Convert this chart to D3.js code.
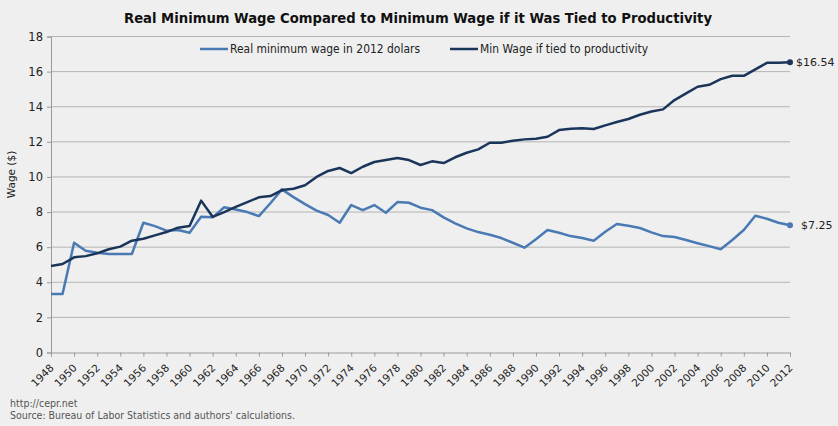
<!DOCTYPE html>
<html>
<head>
<meta charset="utf-8">
<script src="https://cdn.jsdelivr.net/npm/d3@7"></script>
<style>
  html, body { margin: 0; padding: 0; background: #efefef; }
  svg { display: block; }
</style>
</head>
<body>
<div id="chart"></div>
<script>
/* Real minimum wage vs. minimum wage tied to productivity, 1948-2012 */
var years = d3.range(1948, 2013);

var realWage = [
  3.33, 3.33, 6.25, 5.80, 5.68, 5.61, 5.61, 5.61, 7.39, 7.20,
  6.94, 6.98, 6.82, 7.73, 7.70, 8.27, 8.15, 8.00, 7.77, 8.50,
  9.29, 8.85, 8.45, 8.08, 7.83, 7.39, 8.40, 8.11, 8.40, 7.96,
  8.57, 8.53, 8.25, 8.11, 7.70, 7.36, 7.07, 6.86, 6.71, 6.52,
  6.25, 5.97, 6.45, 6.98, 6.82, 6.63, 6.52, 6.37, 6.88, 7.32,
  7.22, 7.09, 6.84, 6.63, 6.58, 6.41, 6.22, 6.06, 5.88, 6.41,
  6.98, 7.79, 7.62, 7.39, 7.25
];

var prodWage = [
  4.93, 5.04, 5.42, 5.49, 5.65, 5.88, 6.03, 6.37, 6.48, 6.67,
  6.86, 7.11, 7.20, 8.65, 7.73, 8.00, 8.30, 8.57, 8.84, 8.91,
  9.25, 9.33, 9.53, 10.00, 10.34, 10.51, 10.22, 10.58, 10.85, 10.96,
  11.08, 10.96, 10.68, 10.89, 10.79, 11.12, 11.38, 11.57, 11.95, 11.95,
  12.06, 12.14, 12.18, 12.29, 12.67, 12.74, 12.78, 12.73, 12.94, 13.13,
  13.30, 13.54, 13.73, 13.85, 14.38, 14.76, 15.14, 15.25, 15.57, 15.76,
  15.76, 16.13, 16.50, 16.50, 16.54
];

var yTicks = [0, 2, 4, 6, 8, 10, 12, 14, 16, 18];
var xTicks = d3.range(1948, 2013, 2);

var seriesNames = ['Real minimum wage in 2012 dolars', 'Min Wage if tied to productivity'];
var seriesColors = ['#4a7ab4', '#1b355a'];

var title = 'Real Minimum Wage Compared to Minimum Wage if it Was Tied to Productivity';
var sourceLines = ['http://cepr.net', "Source: Bureau of Labor Statistics and authors' calculations."];

(function () {
  'use strict';
  var width = 838, height = 426;
  var margin = { top: 36.5, right: 48, bottom: 73.5, left: 51 };
  var innerW = width - margin.left - margin.right;
  var innerH = height - margin.top - margin.bottom;

  var svg = d3.select('#chart').append('svg')
    .attr('width', width).attr('height', height);

  svg.append('rect').attr('width', width).attr('height', height).attr('fill', '#efefef');

  var g = svg.append('g').attr('transform', 'translate(' + margin.left + ',' + margin.top + ')');

  var x = d3.scaleLinear().domain([1948, 2012]).range([0, innerW]);
  var y = d3.scaleLinear().domain([0, 18]).range([innerH, 0]);

  /* Gridlines */
  g.append('g').selectAll('line').data(yTicks.filter(function (d) { return d > 0; }))
    .enter().append('line')
    .attr('x1', 0).attr('x2', innerW)
    .attr('y1', function (d) { return y(d); }).attr('y2', function (d) { return y(d); })
    .attr('stroke', '#b4b4b4').attr('stroke-width', 1);

  /* Y axis */
  var yAxis = g.append('g')
    .call(d3.axisLeft(y).tickValues(yTicks).tickSize(4).tickPadding(4));
  yAxis.select('.domain').attr('stroke', '#9a9a9a');
  yAxis.selectAll('.tick line').attr('stroke', '#9a9a9a');
  yAxis.selectAll('text')
    .style('font-family', 'DejaVu Sans, Verdana, sans-serif')
    .style('font-size', '11.5px').attr('fill', '#222');

  /* X axis */
  var xAxis = g.append('g').attr('transform', 'translate(0,' + innerH + ')')
    .call(d3.axisBottom(x).tickValues(xTicks).tickSize(4).tickFormat(d3.format('d')));
  xAxis.select('.domain').attr('stroke', '#9a9a9a');
  xAxis.selectAll('.tick line').attr('stroke', '#9a9a9a');
  xAxis.selectAll('text')
    .style('font-family', 'DejaVu Sans, Verdana, sans-serif')
    .style('font-size', '10.5px').attr('fill', '#222')
    .attr('text-anchor', 'end')
    .attr('dy', null).attr('y', 0)
    .attr('transform', 'translate(3,16) rotate(-45)');

  /* Y axis title */
  svg.append('text')
    .attr('transform', 'translate(15,' + (margin.top + innerH / 2 - 20) + ') rotate(-90)')
    .attr('text-anchor', 'middle')
    .style('font-family', 'DejaVu Sans, Verdana, sans-serif')
    .style('font-size', '10.5px').attr('fill', '#222')
    .text('Wage ($)');

  /* Lines */
  var line = d3.line()
    .x(function (d, i) { return x(years[i]); })
    .y(function (d) { return y(d); });

  [realWage, prodWage].forEach(function (s, k) {
    g.append('path').datum(s)
      .attr('fill', 'none')
      .attr('stroke', seriesColors[k])
      .attr('stroke-width', 2.5)
      .attr('stroke-linejoin', 'round')
      .attr('d', line);
    var last = s[s.length - 1];
    g.append('circle')
      .attr('cx', x(years[years.length - 1])).attr('cy', y(last))
      .attr('r', 3).attr('fill', seriesColors[k]);
    g.append('text')
      .attr('x', x(years[years.length - 1]) + (k === 0 ? 11 : 6)).attr('y', y(last) + 4)
      .style('font-family', 'DejaVu Sans, Verdana, sans-serif')
      .style('font-size', '11px').attr('fill', '#222')
      .text('$' + d3.format('.2f')(last));
  });

  /* Title */
  svg.append('text')
    .attr('x', 418).attr('y', 23)
    .attr('text-anchor', 'middle')
    .style('font-family', 'DejaVu Sans Condensed, DejaVu Sans, sans-serif')
    .style('font-weight', 'bold').style('font-size', '13.5px').attr('fill', '#111')
    .attr('textLength', 588).attr('lengthAdjust', 'spacingAndGlyphs')
    .text(title);

  /* Legend */
  var legX = [200, 450];
  var legW = [190, 168];
  seriesNames.forEach(function (name, k) {
    svg.append('line')
      .attr('x1', legX[k]).attr('x2', legX[k] + 28)
      .attr('y1', 49).attr('y2', 49)
      .attr('stroke', seriesColors[k]).attr('stroke-width', 2.5);
    svg.append('text')
      .attr('x', legX[k] + 30).attr('y', 53)
      .style('font-family', 'DejaVu Sans, Verdana, sans-serif')
      .style('font-size', '11.5px').attr('fill', '#222')
      .attr('textLength', legW[k]).attr('lengthAdjust', 'spacingAndGlyphs')
      .text(name);
  });

  /* Source */
  svg.append('g').selectAll('text').data(sourceLines).enter().append('text')
    .attr('x', 10).attr('y', function (d, i) { return 407 + i * 12; })
    .style('font-family', 'DejaVu Sans Condensed, DejaVu Sans, sans-serif')
    .style('font-size', '10.5px').attr('fill', '#555')
    .text(function (d) { return d; });
})();
</script>
</body>
</html>
